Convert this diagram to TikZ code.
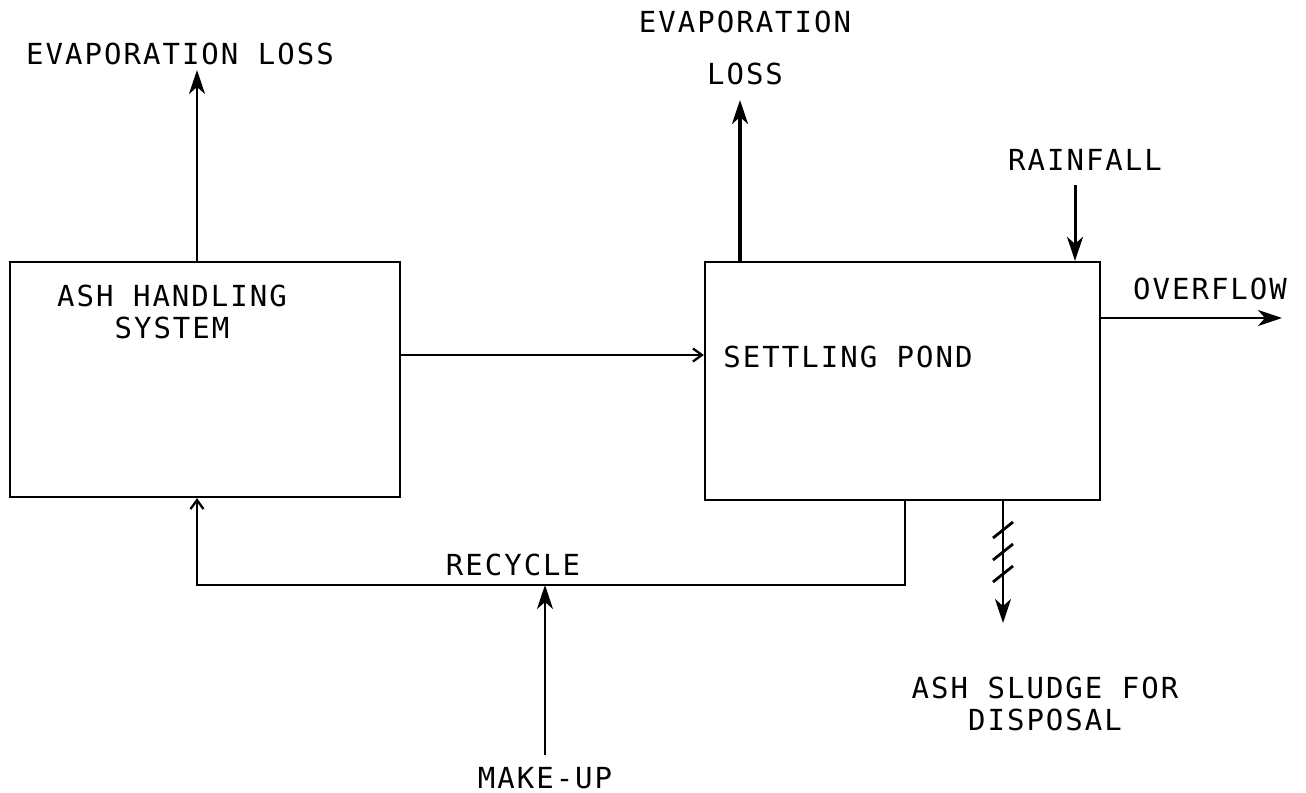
\documentclass[tikz,border=0pt]{standalone}
\usepackage{fontspec}
\setmainfont{DejaVu Sans Mono}[LetterSpace=7]
\usetikzlibrary{arrows.meta}

\begin{document}
\begin{tikzpicture}[x=0.02cm,y=-0.02cm, % 1 px = 0.02 cm (y vers le bas)
  line width=1.3pt,
  box/.style={draw, inner sep=0pt},
  lbl/.style={font=\fontsize{16.5}{18}\selectfont, inner sep=0pt, align=center},
  flow/.style={-{Stealth[length=0.48cm,width=0.32cm,inset=0.14cm]}},
  barb/.style={-{Straight Barb[length=0.18cm,width=0.26cm]}}]

\useasboundingbox (0,0) rectangle (1306,793);

% --------- BOÎTES ----------
\node[box, minimum width=7.8cm, minimum height=4.7cm]  (ahs)  at (205,379.5) {};
\node[box, minimum width=7.9cm, minimum height=4.76cm] (pond) at (902.5,381) {};

% --------- TEXTES ----------
\node[lbl] (ahsT)   at (172,312)  {ASH HANDLING\\SYSTEM};
\node[lbl] (pondT)  at (848,357)  {SETTLING POND};
\node[lbl] (evapA)  at (180,54)   {EVAPORATION LOSS};
\node[lbl] (evapB)  at (745,22)   {EVAPORATION};
\node[lbl] (lossB)  at (745,74)   {LOSS};
\node[lbl] (rainT)  at (1085,160) {RAINFALL};
\node[lbl] (ovfT)   at (1210,289) {OVERFLOW};
\node[lbl] (recT)   at (513,565)  {RECYCLE};
\node[lbl] (sludT)  at (1045,704) {ASH SLUDGE FOR\\DISPOSAL};
\node[lbl] (mkT)    at (545,778)  {MAKE-UP};

% --------- POINTS LIBRES ----------
\coordinate (evA)  at (197,70);    % pointe évaporation (gauche)
\coordinate (evB)  at (740,100);   % pointe évaporation (droite)
\coordinate (rain) at (1075,185);  % départ pluie
\coordinate (ovf)  at (1282,318);  % pointe débordement
\coordinate (tr)   at (0,355);     % niveau du transfert
\coordinate (rcR)  at (905,585);   % recyclage, coin droit
\coordinate (rcL)  at (197,585);   % recyclage, coin gauche
\coordinate (mk)   at (545,755);   % départ appoint
\coordinate (sl)   at (1003,623);  % pointe boues

% --------- FLUX ----------
\draw[flow, line width=1.7pt] (evA |- ahs.north) -- (evA);
\draw[flow, line width=1.9pt] (evB |- pond.north) -- (evB);
\draw[flow, line width=1.7pt] (rain) -- (rain |- pond.north);
\draw[flow, line width=1.7pt] (pond.east |- ovf) -- (ovf);
\draw[barb] (ahs.east |- tr) -- (pond.west |- tr);

% Recyclage + appoint
\draw[barb] (rcR |- pond.south) -- (rcR) -- (rcL) -- (rcL |- ahs.south);
\draw[flow, line width=1.6pt] (mk) -- (mk |- rcL);

% Boues (trait hachuré)
\draw[flow, line width=1.6pt] (sl |- pond.south) -- (sl);
\foreach \y in {530,552,574}{
  \draw[line width=1.6pt] (993,\y+8) -- (1013,\y-8);
}

\end{tikzpicture}
\end{document}
